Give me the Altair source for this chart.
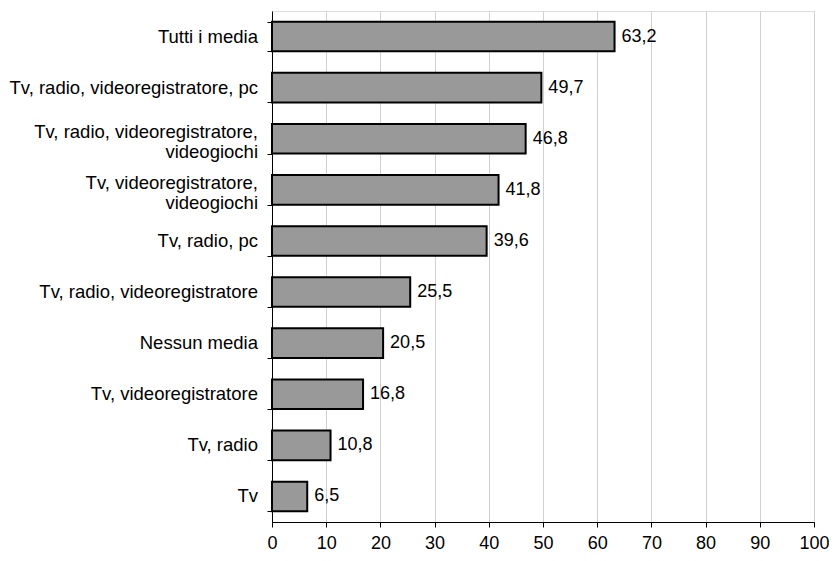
import altair as alt
import pandas as pd

categories = [
    "Tutti i media",
    "Tv, radio, videoregistratore, pc",
    "Tv, radio, videoregistratore,|videogiochi",
    "Tv, videoregistratore,|videogiochi",
    "Tv, radio, pc",
    "Tv, radio, videoregistratore",
    "Nessun media",
    "Tv, videoregistratore",
    "Tv, radio",
    "Tv",
]
values = [63.2, 49.7, 46.8, 41.8, 39.6, 25.5, 20.5, 16.8, 10.8, 6.5]

df = pd.DataFrame({"cat": categories, "v": values})
df["line1"] = [c.split("|")[0] for c in categories]
df["line2"] = [c.split("|")[1] if "|" in c else "" for c in categories]

FONT = "Liberation Sans"
FS_CAT = 18.5
FS_NUM = 18

y = alt.Y(
    "cat:N",
    sort=categories,
    title=None,
    scale=alt.Scale(paddingInner=0.42, paddingOuter=0.21),
    axis=alt.Axis(
        labels=False,
        tickBand="extent",
        tickColor="black",
        tickSize=5,
        domainColor="black",
        grid=False,
    ),
)
x = alt.X(
    "v:Q",
    title=None,
    scale=alt.Scale(domain=[0, 100], nice=False),
    axis=alt.Axis(
        values=list(range(0, 101, 10)),
        labelFont=FONT,
        labelFontSize=FS_NUM,
        labelColor="black",
        labelPadding=7,
        labelFlush=False,
        labelOverlap=False,
        tickColor="black",
        tickSize=5,
        domainColor="black",
        gridColor="#d0d0d0",
        gridWidth=1,
    ),
)

base = alt.Chart(df)

bars = base.mark_bar(fill="#999999", stroke="black", strokeWidth=2).encode(x=x, y=y)

ycat = alt.Y("cat:N", sort=categories)

labels = base.transform_calculate(
    lab="replace(format(datum.v, '.1f'), '.', ',')"
).mark_text(
    align="left", baseline="middle", dx=7, font=FONT, fontSize=FS_NUM, color="black"
).encode(x="v:Q", y=ycat, text="lab:N")

cat_style = dict(align="right", baseline="middle", font=FONT, fontSize=FS_CAT, color="black")

single = base.transform_filter("datum.line2 == ''").mark_text(dy=0, **cat_style).encode(
    x=alt.value(-14), y=ycat, text="line1:N"
)
first = base.transform_filter("datum.line2 != ''").mark_text(dy=-7, **cat_style).encode(
    x=alt.value(-14), y=ycat, text="line1:N"
)
second = base.transform_filter("datum.line2 != ''").mark_text(dy=13, **cat_style).encode(
    x=alt.value(-14), y=ycat, text="line2:N"
)

chart = (
    alt.layer(bars, labels, single, first, second)
    .properties(
        width=542,
        height=511,
        autosize=alt.AutoSizeParams(type="none"),
        padding={"left": 264, "top": 3, "right": 15, "bottom": 31},
    )
    .configure_view(stroke=None)
    .configure(background="white")
)

chart.save("out.html", embed_options={"renderer": "svg", "actions": False})
